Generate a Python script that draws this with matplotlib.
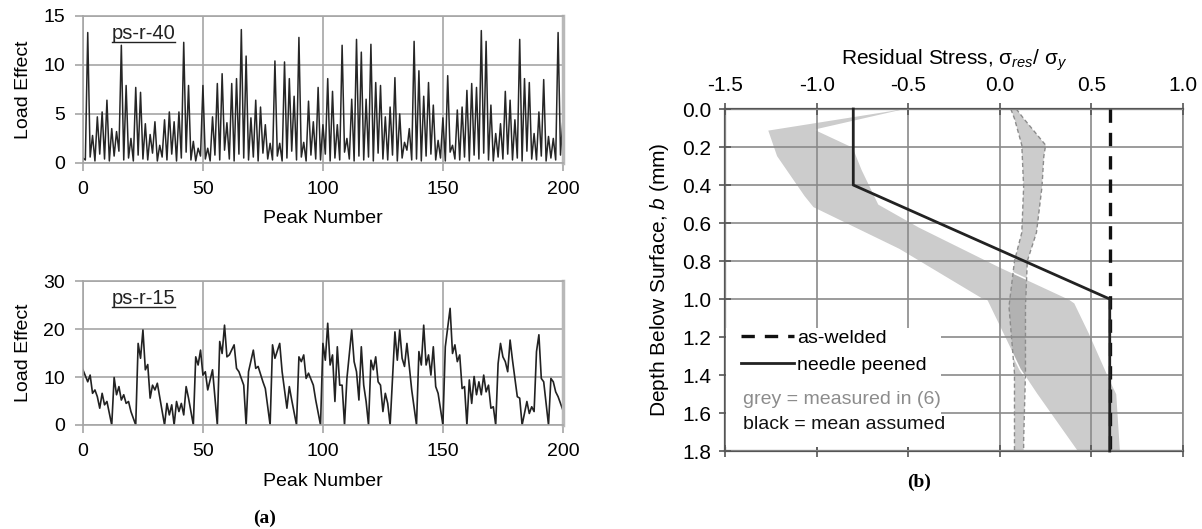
import numpy as np
import matplotlib
matplotlib.use('Agg')
import matplotlib.pyplot as plt
from matplotlib.lines import Line2D
from matplotlib.patches import Rectangle

plt.rcParams['font.family'] = ['Liberation Sans', 'DejaVu Sans']
plt.rcParams['axes.unicode_minus'] = False
plt.rcParams['mathtext.fontset'] = 'custom'
plt.rcParams['mathtext.rm'] = 'Liberation Sans'
plt.rcParams['mathtext.it'] = 'Liberation Sans:italic'

# ---- (a) ps-r-40 : peaks at even peak numbers 2..198, troughs at odd ones
r40_start = 0.5
r40_end = 4.4
r40_peaks = [13.3, 2.8, 4.7, 5.2, 6.4, 3.5, 3.2, 12.0, 7.9, 2.5,
             7.7, 7.2, 4.0, 2.9, 4.2, 1.8, 4.4, 5.2, 4.2, 5.2,
             12.3, 7.9, 2.2, 1.5, 7.9, 1.5, 4.7, 8.1, 9.1, 4.1,
             8.1, 8.6, 13.6, 10.9, 4.6, 6.4, 5.7, 3.9, 2.0, 10.4,
             2.0, 10.3, 8.6, 6.8, 12.8, 2.1, 6.3, 4.2, 7.7, 3.9,
             8.6, 7.3, 3.9, 12.0, 2.5, 6.5, 12.6, 11.3, 6.5, 12.1,
             8.2, 7.9, 4.7, 5.7, 8.7, 5.0, 2.1, 3.5, 12.4, 9.4,
             6.8, 8.2, 5.9, 2.3, 4.6, 8.9, 1.8, 5.4, 5.7, 7.4,
             8.1, 7.7, 13.5, 12.4, 5.9, 3.0, 4.0, 7.3, 6.4, 4.4,
             12.6, 8.6, 8.2, 3.0, 5.2, 8.5, 2.7, 2.5, 13.3]
r40_troughs = [0.3, 0.6, 0.2, 0.9, 0.4, 0.2, 0.7, 1.2, 0.3, 0.5,
               0.2, 0.8, 0.4, 0.3, 1.0, 0.2, 0.6, 0.3, 0.9, 0.2,
               0.5, 1.1, 0.3, 0.2, 0.7, 0.4, 0.2, 0.8, 0.3, 1.3,
               0.4, 0.2, 0.9, 0.5, 0.3, 0.6, 0.2, 1.0, 0.4, 0.3,
               0.7, 0.2, 0.5, 1.2, 0.3, 0.6, 0.2, 0.8, 0.4, 0.3,
               0.9, 0.2, 0.5, 0.3, 1.1, 0.4, 0.2, 0.7, 0.3, 0.6,
               0.2, 1.0, 0.4, 0.3, 0.8, 0.2, 0.5, 1.3, 0.3, 0.4,
               0.2, 0.7, 0.9, 0.3, 0.5, 0.2, 1.1, 0.4, 0.3, 0.6,
               0.2, 0.8, 0.4, 1.0, 0.3, 0.2, 0.6, 0.4, 0.9, 0.3,
               0.5, 0.2, 1.2, 0.4, 0.3, 0.7, 0.2, 0.5, 0.3, 0.8]

# ---- (a) ps-r-15
r15_peak_no = [0, 2, 3, 4, 5, 6, 7, 8, 9, 10, 11, 12, 13, 14, 15, 16, 17, 18, 19, 20,
               22, 23, 24, 25, 26, 27, 28, 29, 30, 31, 34, 35, 36, 37, 38, 39, 40, 41, 42, 43,
               44, 46, 47, 48, 49, 50, 51, 52, 54, 56, 57, 58, 59, 60, 61, 63, 64, 65, 67, 68,
               69, 71, 72, 73, 75, 76, 78, 79, 80, 82, 83, 85, 86, 87, 89, 90, 91, 92, 93, 94,
               96, 97, 99, 100, 101, 102, 103, 104, 105, 106, 107, 108, 109, 110, 112, 113, 114, 115, 116, 117,
               118, 119, 120, 121, 122, 123, 124, 125, 126, 127, 128, 130, 131, 132, 133, 134, 135, 137, 139, 140,
               141, 142, 143, 144, 145, 146, 147, 148, 150, 151, 153, 154, 155, 156, 157, 158, 159, 160, 161, 162,
               163, 164, 165, 166, 167, 168, 169, 170, 171, 172, 173, 174, 175, 176, 177, 178, 179, 180, 181, 182,
               183, 185, 186, 187, 188, 189, 190, 191, 192, 194, 195, 196, 197, 198, 199, 200]
r15_load = [11.5, 9.0, 10.4, 6.6, 7.3, 5.9, 3.5, 6.6, 4.2, 4.9, 2.4, 0.0, 9.9, 6.3, 8.0, 5.2, 6.3, 4.5, 4.9, 2.8,
            0.0, 17.0, 13.9, 19.8, 11.5, 12.6, 5.6, 8.3, 7.3, 8.7, 0.0, 4.5, 2.1, 4.2, 0.0, 4.9, 2.8, 4.5, 2.1, 8.0,
            5.6, 0.0, 14.2, 12.5, 15.6, 10.4, 11.1, 7.3, 11.5, 0.0, 17.4, 14.9, 20.8, 14.2, 14.6, 16.7, 11.8, 11.1, 8.3, 0.0,
            11.1, 15.6, 11.8, 12.2, 9.0, 7.6, 0.0, 16.7, 13.9, 17.0, 11.1, 3.5, 8.0, 5.2, 0.0, 14.2, 13.2, 14.6, 9.7, 10.8,
            8.3, 5.2, 0.0, 17.0, 13.5, 21.2, 12.5, 14.6, 4.9, 16.3, 8.3, 8.3, 0.0, 9.7, 19.8, 13.2, 11.1, 5.2, 16.3, 8.3,
            4.9, 0.0, 13.5, 11.5, 14.2, 9.0, 8.3, 2.8, 6.6, 4.5, 0.0, 19.4, 13.5, 19.8, 13.9, 12.2, 17.0, 7.3, 0.0, 15.3,
            12.5, 20.8, 12.5, 14.6, 10.4, 16.3, 8.0, 6.6, 0.0, 16.3, 24.3, 14.9, 16.7, 13.2, 14.6, 7.6, 8.0, 0.0, 9.4, 4.5,
            10.1, 6.3, 9.0, 6.3, 10.4, 6.9, 8.3, 3.5, 3.8, 0.0, 12.8, 17.0, 14.2, 13.2, 11.1, 17.7, 13.5, 9.7, 5.9, 5.6,
            0.0, 4.9, 2.4, 3.8, 2.8, 15.3, 18.8, 9.7, 9.0, 0.0, 9.7, 9.0, 6.9, 5.9, 4.5, 3.1]

# ---- (b) residual stress profiles (depth in mm, stress / yield)
aw_depth = [0.0, 1.8]
aw_stress = [0.6, 0.6]
np_depth = [0.0, 0.4, 1.0, 1.8]
np_stress = [-0.8, -0.8, 0.6, 0.6]

# measured band, needle peened
npm_lo_depth = [0.0, 0.11, 0.25, 0.46, 0.52, 0.74, 1.0, 1.01, 1.37, 1.5, 1.8]
npm_lo_stress = [-0.55, -1.27, -1.22, -1.07, -1.02, -0.55, -0.1, -0.07, 0.11, 0.2, 0.42]
npm_hi_depth = [0.0, 0.11, 0.2, 0.32, 0.5, 0.62, 0.83, 1.0, 1.02, 1.18, 1.42, 1.5, 1.8]
npm_hi_stress = [-0.5, -1.0, -0.8, -0.75, -0.66, -0.44, 0.0, 0.38, 0.41, 0.49, 0.6, 0.64, 0.66]

# measured band, as-welded
awm_lo_depth = [0.0, 0.05, 0.19, 0.41, 0.65, 0.8, 1.04, 1.39, 1.74, 1.8]
awm_lo_stress = [0.06, 0.08, 0.12, 0.13, 0.12, 0.08, 0.05, 0.08, 0.08, 0.08]
awm_hi_depth = [0.0, 0.05, 0.19, 0.25, 0.41, 0.65, 0.8, 1.04, 1.39, 1.74, 1.8]
awm_hi_stress = [0.09, 0.13, 0.25, 0.24, 0.23, 0.2, 0.15, 0.14, 0.14, 0.13, 0.13]

GRID = '#a6a6a6'

fig = plt.figure(figsize=(12.02, 5.29), dpi=100)
ax1 = fig.add_axes([0.069, 0.692, 0.3993, 0.278])
ax2 = fig.add_axes([0.069, 0.1966, 0.3993, 0.2722])
ax3 = fig.add_axes([0.6032, 0.1474, 0.381, 0.6465])

r40 = np.empty(201)
r40[0] = r40_start
r40[1::2] = r40_troughs
r40[2:199:2] = r40_peaks
r40[200] = r40_end

ax1.plot(np.arange(201), r40, color='#262626', lw=1.1)
ax2.plot(r15_peak_no, r15_load, color='#222222', lw=1.2)


def style_left(ax, ymax, ystep):
    ax.set_xlim(0, 200)
    ax.set_ylim(0, ymax)
    ax.set_xticks(range(0, 201, 50))
    ax.set_yticks(range(0, ymax + 1, ystep))
    ax.grid(True, color=GRID, lw=1.2)
    ax.set_axisbelow(True)
    for s in ax.spines.values():
        s.set_color(GRID)
        s.set_linewidth(1.2)
    ax.spines['right'].set_linewidth(2.5)
    ax.spines['right'].set_color('#b8b8b8')
    ax.tick_params(direction='out', length=6, width=1.2, color=GRID,
                   labelsize=14, pad=7)
    ax.set_xlabel('Peak Number', fontsize=14, labelpad=9)
    ax.set_ylabel('Load Effect', fontsize=14, labelpad=8)


style_left(ax1, 15, 5)
style_left(ax2, 30, 10)

t1 = ax1.text(12, 13.2, 'ps-r-40', fontsize=14.5, va='center', color='#222222')
t2 = ax2.text(12, 26.4, 'ps-r-15', fontsize=14.5, va='center', color='#222222')

# ---- (b)
ax3.fill(np.concatenate([npm_lo_stress, npm_hi_stress[::-1]]),
         np.concatenate([npm_lo_depth, npm_hi_depth[::-1]]),
         facecolor='#9a9a9a', alpha=0.5, edgecolor='none', zorder=1)
ax3.plot(npm_lo_stress, npm_lo_depth, color='white', lw=1.2, zorder=1.2)
ax3.plot(npm_hi_stress, npm_hi_depth, color='white', lw=1.2, zorder=1.2)

ax3.fill(np.concatenate([awm_lo_stress, awm_hi_stress[::-1]]),
         np.concatenate([awm_lo_depth, awm_hi_depth[::-1]]),
         facecolor='#9a9a9a', alpha=0.5, edgecolor='none', zorder=1)
ax3.plot(awm_lo_stress, awm_lo_depth, color='#8c8c8c', lw=1, dashes=(3, 2), zorder=1.2)
ax3.plot(awm_hi_stress, awm_hi_depth, color='#8c8c8c', lw=1, dashes=(3, 2), zorder=1.2)

ax3.plot(aw_stress, aw_depth, color='#111111', lw=2.4, dashes=(4, 3), zorder=4,
         label='as-welded', clip_on=False)
ax3.plot(np_stress, np_depth, color='#222222', lw=2.0, zorder=4,
         label='needle peened', clip_on=False)

ax3.set_xlim(-1.5, 1.0)
ax3.set_ylim(1.8, 0.0)
ax3.set_xticks(np.arange(-1.5, 1.01, 0.5))
ax3.set_yticks(np.arange(0, 1.81, 0.2))
ax3.xaxis.set_major_formatter(matplotlib.ticker.FormatStrFormatter('%.1f'))
ax3.yaxis.set_major_formatter(matplotlib.ticker.FormatStrFormatter('%.1f'))
ax3.xaxis.tick_top()
ax3.xaxis.set_label_position('top')
ax3.tick_params(axis='x', bottom=True, labelbottom=False)
ax3.grid(True, color='#8a8a8a', lw=1.2)
ax3.set_axisbelow(False)
for side in ['top', 'left', 'bottom']:
    ax3.spines[side].set_color('#555555')
    ax3.spines[side].set_linewidth(1.6)
ax3.spines['right'].set_color('#8a8a8a')
ax3.spines['right'].set_linewidth(1.2)
ax3.tick_params(direction='inout', length=8, width=1.2, color='#555555',
                labelsize=15, pad=6)
ax3.set_xlabel(r'Residual Stress, σ$_{res}$/ σ$_{y}$', fontsize=15, labelpad=8)
ax3.set_ylabel(r'Depth Below Surface, $b$ (mm)', fontsize=15, labelpad=8)

ax3.add_patch(Rectangle((0.003, 0.011), 0.469, 0.35, transform=ax3.transAxes,
                        facecolor='white', edgecolor='none', zorder=3))
leg = ax3.legend(loc='upper left', bbox_to_anchor=(0.035, 0.355), frameon=False,
                 fontsize=14, handlelength=2.7, handletextpad=0.2,
                 borderaxespad=0, borderpad=0, labelspacing=0.45)
leg.set_zorder(5)
ax3.text(0.039, 0.152, 'grey = measured in (6)', transform=ax3.transAxes,
         fontsize=14, color='#8c8c8c', va='center', zorder=5,
         bbox=dict(facecolor='white', edgecolor='none', pad=1))
ax3.text(0.039, 0.079, 'black = mean assumed', transform=ax3.transAxes,
         fontsize=14, color='#111111', va='center', zorder=5)

fig.text(0.2205, 0.021, '(a)', fontsize=14, fontweight='bold',
         family='Liberation Serif', ha='center', va='center')
fig.text(0.765, 0.089, '(b)', fontsize=14, fontweight='bold',
         family='Liberation Serif', ha='center', va='center')

# underline the series names
fig.canvas.draw()
inv = fig.transFigure.inverted()
for t in (t1, t2):
    bb = t.get_window_extent()
    (x0, y0), (x1, _) = inv.transform([[bb.x0, bb.y0 + 1], [bb.x1, bb.y0 + 1]])
    fig.add_artist(Line2D([x0, x1], [y0, y0], transform=fig.transFigure,
                          color='#222222', lw=1.0))

fig.savefig('out.png', dpi=100)
